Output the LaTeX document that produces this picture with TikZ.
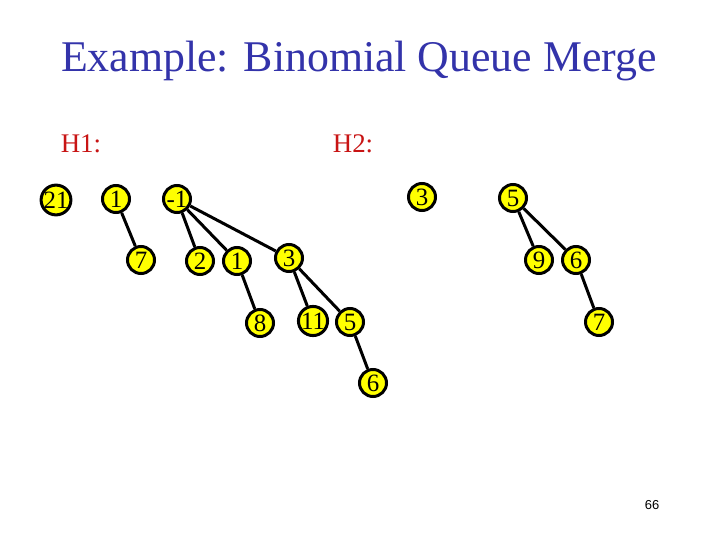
\documentclass[tikz,border=0pt]{standalone}
\usepackage{fontspec}
\setmainfont{Liberation Serif}
\newfontfamily\pagefont{Liberation Sans}
\usetikzlibrary{positioning}
\definecolor{titleblue}{RGB}{51,51,170}
\definecolor{heapred}{RGB}{200,20,20}
\definecolor{keyyellow}{RGB}{255,255,0}

\begin{document}
\begin{tikzpicture}[
  x=1bp,y=-1bp,
  key/.style={
    circle,
    draw=black,
    fill=keyyellow,
    line width=3bp,
    minimum size=27bp,
    inner sep=0pt,
    font=\fontsize{25}{25}\selectfont
  },
  link/.style={line width=3bp,black},
  heaplabel/.style={text=heapred,font=\fontsize{27}{27}\selectfont}
]
\useasboundingbox[fill=white] (0,0) rectangle (720,540);

\node[text=titleblue,font=\fontsize{44}{44}\selectfont] (title) at (359,61)
  {Example: Binomial Queue Merge};
\node[heaplabel] (hone) at (81,144) {H1:};
\node[heaplabel] (htwo) at (353,144) {H2:};

% H1
\node[key] (k21) at (56,200) {21};
\node[key] (k1) at (116,199) {1};
\node[key] (k7) at (141,260) {7};
\node[key] (km1) at (177,199) {-1};
\node[key] (k2) at (200,261) {2};
\node[key] (k1b) at (237,261) {1};
\node[key] (k3b) at (289,258) {3};
\node[key] (k8) at (260,323) {8};
\node[key] (k11) at (313,321) {11};
\node[key] (k5b) at (350,322) {5};
\node[key] (k6b) at (373,383) {6};

% H2
\node[key] (k3) at (422,197) {3};
\node[key] (k5) at (513,198) {5};
\node[key] (k9) at (539,260) {9};
\node[key] (k6) at (576,260) {6};
\node[key] (k7b) at (599,322) {7};

\draw[link] (k1) -- (k7);
\draw[link] (km1) -- (k2);
\draw[link] (km1) -- (k1b);
\draw[link] (km1) -- (k3b);
\draw[link] (k1b) -- (k8);
\draw[link] (k3b) -- (k11);
\draw[link] (k3b) -- (k5b);
\draw[link] (k5b) -- (k6b);
\draw[link] (k5) -- (k9);
\draw[link] (k5) -- (k6);
\draw[link] (k6) -- (k7b);

\node[font=\pagefont\fontsize{13}{13}\selectfont] (pageno) at (652,505) {66};
\end{tikzpicture}
\end{document}
